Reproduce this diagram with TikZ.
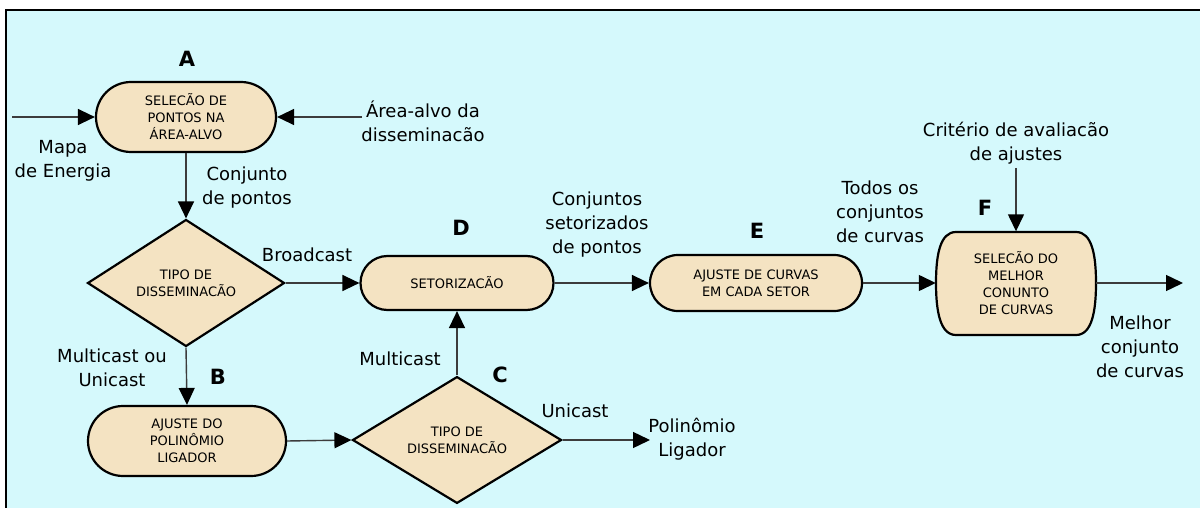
\documentclass[tikz,border=0pt]{standalone}
\usepackage{fontspec}
\setmainfont{DejaVu Sans}
\usetikzlibrary{shapes.misc,shapes.geometric,arrows.meta}
\definecolor{bgcyan}{RGB}{213,249,252}
\definecolor{boxfill}{RGB}{244,227,194}
\definecolor{linegray}{RGB}{60,60,60}
\tikzset{
  boxline/.style={draw=black, line width=2.2pt, fill=boxfill},
  proc/.style={rounded rectangle, boxline, align=center, inner sep=0pt, font=\fontsize{13}{17}\selectfont},
  decis/.style={diamond, boxline, align=center, inner sep=0pt, font=\fontsize{13}{17}\selectfont},
  selbox/.style={rectangle, draw=none, align=center, inner sep=0pt, font=\fontsize{13}{17}\selectfont},
  lab/.style={align=center, inner sep=0pt, font=\fontsize{18}{24}\selectfont},
  letter/.style={inner sep=0pt, font=\fontsize{21}{24}\selectfont\bfseries},
  flow/.style={draw=linegray, line width=1.4pt, -{Triangle[length=17pt,width=16pt,color=black]}},
}
\begin{document}
\begin{tikzpicture}[x=1pt,y=-1pt]
\useasboundingbox (0,0) rectangle (1200,508);
\fill[bgcyan] (6,10) rectangle (1200,508);
\draw[black, line width=2.5pt] (6,508) -- (6,10) -- (1200,10);

% barrel-shaped box of F
\path[boxline] (956,232) -- (1076,232) .. controls (1092,232) and (1096,255) .. (1096,283)
  .. controls (1096,311) and (1092,335) .. (1076,335) -- (956,335)
  .. controls (940,335) and (936,311) .. (936,283)
  .. controls (936,255) and (940,232) .. (956,232) -- cycle;

% nodes
\node[proc, minimum width=180pt, minimum height=70pt] (A) at (186,117) {SELECÃO DE\\PONTOS NA\\ÁREA-ALVO};
\node[decis, minimum width=197pt, minimum height=127pt] (T1) at (186,283) {TIPO DE\\DISSEMINACÃO};
\node[proc, minimum width=193pt, minimum height=54pt] (D) at (457,283) {SETORIZACÃO};
\node[proc, minimum width=198pt, minimum height=70pt] (B) at (187,441) {AJUSTE DO\\POLINÔMIO\\LIGADOR};
\node[decis, minimum width=209pt, minimum height=126pt] (C) at (457,440) {TIPO DE\\DISSEMINACÃO};
\node[proc, minimum width=212pt, minimum height=56pt] (E) at (756,283) {AJUSTE DE CURVAS\\EM CADA SETOR};
\node[selbox, minimum width=160pt, minimum height=103pt] (F) at (1016,283) {SELECÃO DO\\MELHOR\\CONUNTO\\DE CURVAS};

% letters
\node[letter] (lA) at (187,59) {A};
\node[letter] (lB) at (218,377) {B};
\node[letter] (lC) at (500,375) {C};
\node[letter] (lD) at (461,228) {D};
\node[letter] (lE) at (757,231) {E};
\node[letter] (lF) at (985,208) {F};

% free ends
\coordinate (mapa) at (12,117);
\coordinate (area) at (362,117);
\coordinate (crit) at (1016,168);
\coordinate (poli) at (650,440);
\coordinate (out) at (1183,283);

% connectors
\draw[flow] (mapa) -- (A.west);
\draw[flow] (area) -- (A.east);
\draw[flow] (A.south) -- (T1.north);
\draw[flow] (T1.east) -- (D.west);
\draw[flow] (T1.south) -- (B.north);
\draw[flow] (B.east) -- (C.west);
\draw[flow] (C.north) -- (D.south);
\draw[flow] (C.east) -- (poli);
\draw[flow] (D.east) -- (E.west);
\draw[flow] (E.east) -- (F.west);
\draw[flow] (crit) -- (F.north);
\draw[flow] (F.east) -- (out);

% labels
\node[lab] (tMapa) at (63,161) {Mapa\\de Energia};
\node[lab] (tArea) at (423,121) {Área-alvo da\\disseminacão};
\node[lab] (tConj) at (247,188) {Conjunto\\de pontos};
\node[lab] (tBroad) at (307,255) {Broadcast};
\node[lab] (tMU) at (112,368) {Multicast ou\\Unicast};
\node[lab] (tMulti) at (400,359) {Multicast};
\node[lab] (tUni) at (575,411) {Unicast};
\node[lab] (tPoli) at (692,439) {Polinômio\\Ligador};
\node[lab] (tSet) at (597,225) {Conjuntos\\setorizados\\de pontos};
\node[lab] (tTodos) at (880,212) {Todos os\\conjuntos\\de curvas};
\node[lab] (tCrit) at (1016,143) {Critério de avaliacão\\de ajustes};
\node[lab] (tMelhor) at (1140,347) {Melhor\\conjunto\\de curvas};
\end{tikzpicture}
\end{document}
